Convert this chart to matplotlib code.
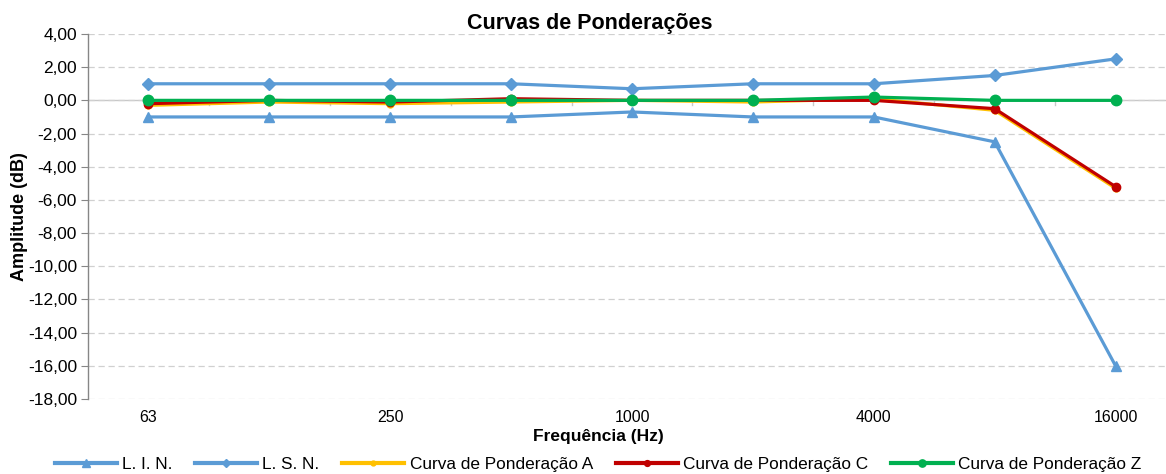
import matplotlib
matplotlib.use("Agg")
import matplotlib.pyplot as plt
from matplotlib.ticker import FuncFormatter

categories = ["63", "125", "250", "500", "1000", "2000", "4000", "8000", "16000"]
lin = [-1.0, -1.0, -1.0, -1.0, -0.7, -1.0, -1.0, -2.5, -16.0]
lsn = [1.0, 1.0, 1.0, 1.0, 0.7, 1.0, 1.0, 1.5, 2.5]
curva_a = [-0.3, -0.1, -0.2, -0.1, 0.0, -0.1, 0.1, -0.6, -5.3]
curva_c = [-0.2, 0.0, -0.1, 0.1, 0.0, 0.0, 0.0, -0.5, -5.2]
curva_z = [0.0, 0.0, 0.0, 0.0, 0.0, 0.0, 0.2, 0.0, 0.0]
yticks = list(range(-18, 5, 2))

plt.rcParams['font.family'] = ['Liberation Sans', 'DejaVu Sans']

W, H = 1166, 474
fig = plt.figure(figsize=(W / 100, H / 100), dpi=100)
left, right, top, bottom = 88, 1176, 34, 399
ax = fig.add_axes([left / W, (H - bottom) / H, (right - left) / W, (bottom - top) / H])

x = list(range(len(categories)))
blue = '#5B9BD5'
lw = 2.3
ax.plot(x, lin, color=blue, lw=lw, marker='^', ms=7.5, label='L. I. N.', zorder=3)
ax.plot(x, lsn, color=blue, lw=lw, marker='D', ms=6.5, label='L. S. N.', zorder=3)
ax.plot(x, curva_a, color='#FFC000', lw=lw, marker='o', ms=5, label='Curva de Ponderação A', zorder=4)
ax.plot(x, curva_c, color='#C00000', lw=lw, marker='o', ms=6, label='Curva de Ponderação C', zorder=5)
ax.plot(x, curva_z, color='#00B050', lw=lw, marker='o', ms=7.5, label='Curva de Ponderação Z', zorder=6)

ax.set_xlim(-0.5, len(categories) - 0.5)
ax.set_ylim(-18, 4)
ax.set_yticks(yticks)
ax.yaxis.set_major_formatter(FuncFormatter(lambda v, p: f"{v:.2f}".replace('.', ',')))
ax.grid(axis='y', color='#D0D0D0', linestyle=(0, (5, 3)), lw=0.9, zorder=0)
ax.axhline(0, color='#C8C8C8', lw=1.0, zorder=1)

for s in ['top', 'right', 'bottom']:
    ax.spines[s].set_visible(False)
ax.spines['left'].set_color('#868686')
ax.spines['left'].set_linewidth(1.0)
ax.tick_params(axis='y', direction='out', length=5, color='#868686', labelsize=12.5, pad=3, labelcolor='#000000')

ax.set_xticks(x[::2])
ax.set_xticklabels(categories[::2])
ax.tick_params(axis='x', length=0, labelsize=11.5, pad=7.8)

# category boundary tick marks on the zero line
for b in [i + 0.5 for i in range(len(categories) - 1)]:
    ax.plot([b, b], [0, -0.25], color='#C8C8C8', lw=1.0, zorder=1)

fig.text(590 / W, 1 - 23 / H, 'Curvas de Ponderações', ha='center', va='center',
         fontsize=15.5, fontweight='bold')
fig.text(598 / W, 1 - 441 / H, 'Frequência (Hz)', ha='center', va='baseline',
         fontsize=12.5, fontweight='bold')
fig.text(20 / W, 1 - 217 / H, 'Amplitude (dB)', ha='center', va='center', rotation=90,
         fontsize=13, fontweight='bold')

leg = fig.legend(loc='center', bbox_to_anchor=(598 / W, 1 - 464 / H), ncol=5, frameon=False,
                 prop={'size': 12.4}, handlelength=3.6, handletextpad=0.3,
                 columnspacing=1.33, markerscale=0.7)
for h in leg.legend_handles:
    h.set_linewidth(3)

fig.savefig('out.png', dpi=100)
